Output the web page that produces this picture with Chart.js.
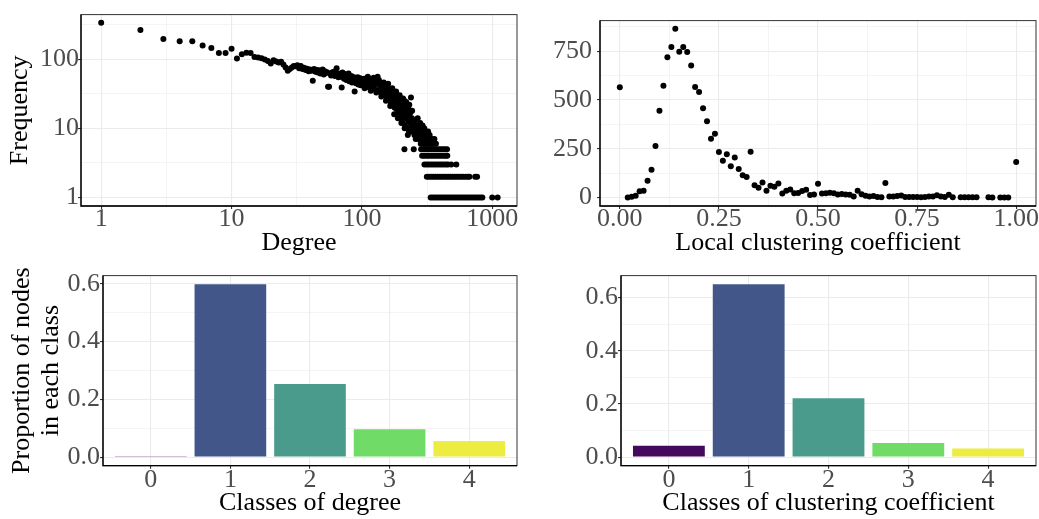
<!DOCTYPE html>
<html><head><meta charset="utf-8">
<script src="https://cdn.jsdelivr.net/npm/chart.js@4.4.1/dist/chart.umd.min.js"></script>
<style>
html,body{margin:0;padding:0;background:#fff;width:1039px;height:519px;overflow:hidden}
canvas{position:absolute}
</style></head><body>
<canvas id="c1" width="520" height="260" style="left:0;top:0;width:520px;height:260px"></canvas>
<canvas id="c2" width="519" height="260" style="left:520px;top:0;width:519px;height:260px"></canvas>
<canvas id="c3" width="520" height="259" style="left:0;top:260px;width:520px;height:259px"></canvas>
<canvas id="c4" width="519" height="259" style="left:520px;top:260px;width:519px;height:259px"></canvas>
<script>
// ---------- Panel 1: degree distribution (log-log) ----------
const degHeadK = [1,2,3,4,5,6,7,8,9,10,11,12,13,14,15,16,17];
const degHeadF = [337,265,196,182,182,158,145,123,123,142,102,118,124,123,108,106,103];
const degMidK = [18,19,20,21,22,23,24,25,26,27,28,29,30,31,32,33,34,35,36,37,38,39,40,41,42,43,44,45,46,47,48,49,50,51,52,53,54,55,56,57,58,59,60,61,62,63,64,65,66,67,68,69,70,71,72,73,74,75,76,77,78,79,80,81,82,83,84,85,86,87,88,89,90,91,92,93,94,95,96,97,98,99,100];
const degMidF = [99,94,87,97,93,90,92,84,76,68,72,76,80,79,82,74,80,72,75,70,73,67,71,68,49,72,66,70,64,69,62,66,71,60,67,63,65,40,40,62,58,64,61,66,57,63,74,59,55,62,60,56,39,64,58,52,61,55,50,59,53,62,48,56,51,57,46,54,49,55,34,50,45,52,47,55,43,50,46,53,42,49,51];
const degUpperK = [102,104,106,108,110,112,114,116,118,120,122,124,126,128,130,132,134,136,138,140,142,144,146,148,150,152,154,156,158,160,162,164,166,168,170,172,174,176,178,180,182,184,186,188,190,192,194,196,198,200,202,204,206,208,210,212,214,216,218,220,222,224,226,228,230,232,234,236,238,240,242,244,246,248,250];
const degUpperF = [47,52,41,49,45,53,39,48,43,50,40,46,37,52,44,56,35,47,41,33,45,38,42,31,40,36,29,42,34,27,37,31,24,35,28,22,32,26,20,30,24,19,28,22,17,26,20,15,24,18,14,22,12,19,16,25,11,18,14,21,10,16,13,19,9,15,12,17,28,11,14,9,13,10,12];
const degLateK = [253,256,259,262,265,268,271,274,277,280,283,286,289,292,295,298,301,304,307,310,313,316,319,322,325,328,331,334,337,340,345,352,360,370];
const degLateF = [8,13,7,11,9,14,7,10,8,12,6,9,7,11,6,8,10,6,7,9,6,8,7,9,6,7,8,6,7,6,7,6,7,6];
const degExtraK = [105,111,117,123,129,135,141,147,153,159,165,171,177,183,189,195,201,207,213,219,225,231,237,243];
const degExtraF = [38,56,35,54,33,50,29,46,25,44,21,38,16,34,14,30,12,27,10,24,8,22,9,18];
const tailDeg5 = [212,250,285,296,307,319,331,344,357,371,386,401,417,433,450];
const tailDeg4 = [290,301,313,325,338,351,365,379,394,409,425,441,452];
const tailDeg3 = [302,314,326,339,352,366,380,395,410,426,443,458,485,530];
const tailDeg2 = [315,327,340,353,367,381,396,411,427,444,461,479,497,516,536,557,579,601,625,650,668,740,765];
const tailDeg1 = [337,350,364,378,393,408,424,441,458,476,494,513,533,554,576,598,621,645,670,696,723,751,780,810,840,1000,1100];
const logTicks = [1,3.1623,10,31.623,100,316.23,1000];

// ---------- Panel 2: local clustering coefficient ----------
const ccX = [0.00,0.02,0.03,0.04,0.05,0.06,0.07,0.08,0.09,0.10,0.11,0.12,0.13,0.14,0.15,0.16,0.17,0.18,0.19,0.20,0.21,0.22,0.23,0.24,0.25,0.26,0.27,0.28,0.29,0.30,0.31,0.32,0.33,0.34,0.35,0.36,0.37,0.38,0.39,0.40,0.41,0.42,0.43,0.44,0.45,0.46,0.47,0.48,0.49,0.50,0.51,0.52,0.53,0.54,0.55,0.56,0.57,0.58,0.59,0.60,0.61,0.62,0.63,0.64,0.65,0.66,0.67,0.68,0.69,0.70,0.71,0.72,0.73,0.74,0.75,0.76,0.77,0.78,0.79,0.80,0.81,0.82,0.83,0.84,0.86,0.87,0.88,0.89,0.90,0.93,0.94,0.96,0.97,0.98,1.00];
const ccFreq = [565,0,4,9,32,35,86,143,264,445,572,718,771,864,746,771,745,676,566,540,457,391,301,327,233,189,222,160,205,147,115,105,235,63,51,77,35,61,56,72,21,35,42,22,24,34,40,13,16,71,21,22,25,22,16,18,16,15,6,35,17,10,5,8,3,2,75,5,6,8,11,3,3,3,3,2,3,5,5,12,5,3,15,2,2,2,2,2,2,2,1,1,1,1,182];
const ccYTicks = [0,125,250,375,500,625,750,875];
const ccXTicks = [0,0.125,0.25,0.375,0.5,0.625,0.75,0.875,1];

// ---------- Panels 3 & 4: class proportions ----------
const classLabels = [0,1,2,3,4];
const degreeClassProp = [0.0015,0.598,0.253,0.096,0.056];
const ccClassProp = [0.0425,0.650,0.221,0.053,0.032];
const classColors = ['#46085c','#42568a','#4a9b8c','#71db68','#ecec41'];
const propTicks = [0,0.1,0.2,0.3,0.4,0.5,0.6];

const FONT = "'Liberation Serif', 'DejaVu Serif', serif";
Chart.defaults.font.family = FONT;
Chart.defaults.animation = false;
Chart.defaults.responsive = false;
Chart.defaults.devicePixelRatio = 1;

const tickFont = {family: FONT, size: 26};
const titleFont = {family: FONT, size: 26, lineHeight: 1.2};
const PR = 3;

function gridFor(allMajor) {
  return {
    color: '#ebebeb',
    lineWidth: c => (allMajor || c.index % 2 === 0) ? 1.1 : 0.55,
    tickColor: c => (allMajor || c.index % 2 === 0) ? '#333333' : 'rgba(0,0,0,0)',
    tickLength: 3,
    tickWidth: 1.1,
    offset: false
  };
}

const frame = {
  id: 'frame',
  afterDraw(chart) {
    const {ctx, chartArea: a} = chart;
    ctx.save();
    ctx.strokeStyle = '#333333';
    ctx.lineWidth = 1;
    ctx.strokeRect(a.left, a.top, a.right - a.left, a.bottom - a.top);
    ctx.strokeStyle = '#000000';
    ctx.lineWidth = 1.3;
    ctx.beginPath();
    ctx.moveTo(a.left, a.top);
    ctx.lineTo(a.left, a.bottom);
    ctx.lineTo(a.right, a.bottom);
    ctx.stroke();
    ctx.restore();
  }
};

function setTicks(list) {
  return scale => { scale.ticks = list.map(v => ({value: v})); };
}

// Panel 1
const degPoints = [];
degHeadK.forEach((k, i) => degPoints.push({x: k, y: degHeadF[i]}));
degMidK.forEach((k, i) => degPoints.push({x: k, y: degMidF[i]}));
degUpperK.forEach((k, i) => degPoints.push({x: k, y: degUpperF[i]}));
degLateK.forEach((k, i) => degPoints.push({x: k, y: degLateF[i]}));
degExtraK.forEach((k, i) => degPoints.push({x: k, y: degExtraF[i]}));
[[tailDeg5,5],[tailDeg4,4],[tailDeg3,3],[tailDeg2,2],[tailDeg1,1]].forEach(([arr, f]) => arr.forEach(k => degPoints.push({x: k, y: f})));

new Chart(document.getElementById('c1'), {
  type: 'scatter',
  data: {datasets: [{data: degPoints, backgroundColor: '#000', borderWidth: 0, pointRadius: PR, pointHoverRadius: PR}]},
  options: {
    layout: {padding: {left: 0, top: 10, right: 2.5, bottom: 0}},
    plugins: {legend: {display: false}, tooltip: {enabled: false}},
    scales: {
      x: {type: 'logarithmic', min: 0.716, max: 1549, afterBuildTicks: setTicks(logTicks),
          afterFit: s => { s.height = 54; },
          grid: gridFor(false), border: {display: false},
          ticks: {font: tickFont, color: '#4d4d4d', padding: -5.6, autoSkip: false, maxRotation: 0,
                  callback: (v, i) => i % 2 === 0 ? String(Math.round(v)) : ''},
          title: {display: true, text: 'Degree', font: titleFont, color: '#000', padding: {top: 0, bottom: 1.5}}},
      y: {type: 'logarithmic', min: 0.753, max: 442, afterBuildTicks: setTicks(logTicks.slice(0, 6)),
          afterFit: s => { s.width = 81; },
          grid: gridFor(false), border: {display: false},
          ticks: {font: tickFont, color: '#4d4d4d', padding: -1, autoSkip: false,
                  callback: (v, i) => i % 2 === 0 ? String(Math.round(v)) : ''},
          title: {display: true, text: 'Frequency', font: titleFont, color: '#000', padding: {top: 4.4, bottom: 0}}}
    }
  },
  plugins: [frame]
});

// Panel 2
new Chart(document.getElementById('c2'), {
  type: 'scatter',
  data: {datasets: [{data: ccX.map((x, i) => ({x: x, y: ccFreq[i]})), backgroundColor: '#000', borderWidth: 0, pointRadius: PR, pointHoverRadius: PR}]},
  options: {
    layout: {padding: {left: 0, top: 10, right: 3, bottom: 0}},
    plugins: {legend: {display: false}, tooltip: {enabled: false}},
    scales: {
      x: {type: 'linear', min: -0.05, max: 1.05, afterBuildTicks: setTicks(ccXTicks),
          afterFit: s => { s.height = 54; },
          grid: gridFor(false), border: {display: false},
          ticks: {font: tickFont, color: '#4d4d4d', padding: -5.6, autoSkip: false, maxRotation: 0,
                  callback: (v, i) => i % 2 === 0 ? Number(v).toFixed(2) : ''},
          title: {display: true, text: 'Local clustering coefficient', font: titleFont, color: '#000', padding: {top: 0, bottom: 1.5}}},
      y: {type: 'linear', min: -43, max: 906, afterBuildTicks: setTicks(ccYTicks),
          afterFit: s => { s.width = 80; },
          grid: gridFor(false), border: {display: false},
          ticks: {font: tickFont, color: '#4d4d4d', padding: 5, autoSkip: false,
                  callback: (v, i) => i % 2 === 0 ? String(v) : ''}}
    }
  },
  plugins: [frame]
});

function barChart(id, values, yMin, yMax, yWidth, xTitle, yTitle, yTitlePad) {
  const yOpts = {type: 'linear', min: yMin, max: yMax, afterBuildTicks: setTicks(propTicks.filter(v => v <= yMax)),
          afterFit: s => { s.width = yWidth; },
          grid: gridFor(false), border: {display: false},
          ticks: {font: tickFont, color: '#4d4d4d', padding: 0, autoSkip: false,
                  callback: (v, i) => i % 2 === 0 ? Number(v).toFixed(1) : ''}};
  if (yTitle) yOpts.title = {display: true, text: yTitle, font: {family: FONT, size: 26, lineHeight: 1.115}, color: '#000', padding: {top: yTitlePad, bottom: 0}};
  new Chart(document.getElementById(id), {
    type: 'bar',
    data: {datasets: [{data: classLabels.map((c, i) => ({x: c, y: values[i]})), backgroundColor: classColors, borderWidth: 0,
                       barPercentage: 0.9, categoryPercentage: 1.0}]},
    options: {
      layout: {padding: {left: 0, top: 9.3, right: 3, bottom: 0}},
      plugins: {legend: {display: false}, tooltip: {enabled: false}},
      scales: {
        x: {type: 'linear', offset: false, min: -0.6, max: 4.6, afterBuildTicks: setTicks(classLabels),
            afterFit: s => { s.height = 53.3; },
            grid: gridFor(true), border: {display: false},
            ticks: {font: tickFont, color: '#4d4d4d', padding: -4.3, autoSkip: false, maxRotation: 0,
                    callback: v => String(v)},
            title: {display: true, text: xTitle, font: titleFont, color: '#000', padding: {top: 0, bottom: 0.4}}},
        y: yOpts
      }
    },
    plugins: [frame]
  });
}

barChart('c3', degreeClassProp, -0.0299, 0.628, 103, 'Classes of degree', ['Proportion of nodes', 'in each class'], 7.5);
barChart('c4', ccClassProp, -0.0325, 0.6825, 101, 'Classes of clustering coefficient', null, 0);
</script>
</body></html>
